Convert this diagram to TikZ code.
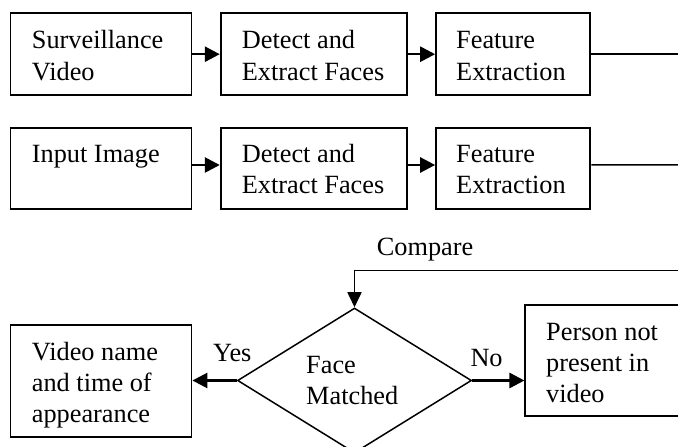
\documentclass[tikz,border=0pt]{standalone}
\usepackage{fontspec}
\setmainfont{Liberation Serif}
\usetikzlibrary{arrows.meta,shapes.geometric,calc}
\begin{document}
\begin{tikzpicture}[x=1bp,y=-1bp,
  box/.style={draw, rectangle, line width=1.8bp, inner sep=0pt},
  decision/.style={draw, diamond, line width=1.5bp, inner sep=0pt},
  % labels are placed by the baseline of their last line
  lbl/.style={anchor=base west, inner sep=0pt, align=left,
    font=\fontsize{26.3bp}{31.5bp}\selectfont},
  flow/.style={line width=2.6bp, -{Triangle[length=15bp,width=15bp]}},
  feed/.style={line width=1.5bp},
  feedarrow/.style={line width=1.6bp, -{Triangle[length=15bp,width=14bp]}}]
  \fill[white] (0,0) rectangle (678,447);
  \useasboundingbox (0,0) rectangle (678,447);

  % first row: surveillance video pipeline
  \node[box, minimum width=181bp, minimum height=81.7bp] (sv) at (101,54.2) {};
  \node[lbl] (svt) at (31.7,80.5) {Surveillance\\Video};
  \node[box, minimum width=186bp, minimum height=81.7bp] (da) at (313.7,54.2) {};
  \node[lbl] (dat) at (241.7,80.5) {Detect and\\Extract Faces};
  \node[box, minimum width=154.3bp, minimum height=81.7bp] (fa) at (513.2,54.2) {};
  \node[lbl] (fat) at (456,80.5) {Feature\\Extraction};

  % second row: input image pipeline
  \node[box, minimum width=181bp, minimum height=81.3bp] (ii) at (101,168.4) {};
  \node[lbl] (iit) at (31.7,162.3) {Input Image};
  \node[box, minimum width=186bp, minimum height=81.3bp] (db) at (313.7,168.4) {};
  \node[lbl] (dbt) at (241.7,194) {Detect and\\Extract Faces};
  \node[box, minimum width=154.3bp, minimum height=81.3bp] (fb) at (513.2,168.4) {};
  \node[lbl] (fbt) at (456,194) {Feature\\Extraction};

  % decision and outcomes
  \node[decision, minimum width=234bp, minimum height=145bp] (fm) at (354.5,380.5) {};
  \node[lbl] (fmt) at (306,404.7) {Face\\Matched};
  \node[box, minimum width=181bp, minimum height=112.3bp] (vn) at (101,380.9) {};
  \node[lbl, font=\fontsize{26.3bp}{31bp}\selectfont] (vnt) at (31.7,422.5) {Video name\\and time of\\appearance};
  \node[box, minimum width=154.7bp, minimum height=111.6bp] (pn) at (602.7,360.5) {};
  \node[lbl, font=\fontsize{26.3bp}{31bp}\selectfont] (pnt) at (546,402.5) {Person not\\present in\\video};

  \node[lbl] (cmp) at (376.7,255.5) {Compare};
  \node[lbl] (yes) at (213,361.3) {Yes};
  \node[lbl] (no) at (470.3,366.3) {No};

  \coordinate (e1) at (680,54.2);
  \coordinate (e2) at (680,165);
  \coordinate (cr) at (680,270.7);

  % connectors
  \draw[flow] (sv) -- (da);
  \draw[flow] (da) -- (fa);
  \draw[feed] (fa.east) -- (e1);
  \draw[flow] ([yshift=3.4bp]ii.east) -- ([yshift=3.4bp]db.west);
  \draw[flow] ([yshift=3.4bp]db.east) -- ([yshift=3.4bp]fb.west);
  \draw[feed] ([yshift=3.4bp]fb.east) -- (e2);
  \draw[feedarrow] (cr) -- (fm.north |- cr) -- (fm.north);
  \draw[flow] (fm.west) -- (vn.east |- fm.west);
  \draw[flow] (fm.east) -- (pn.west |- fm.east);
\end{tikzpicture}
\end{document}
